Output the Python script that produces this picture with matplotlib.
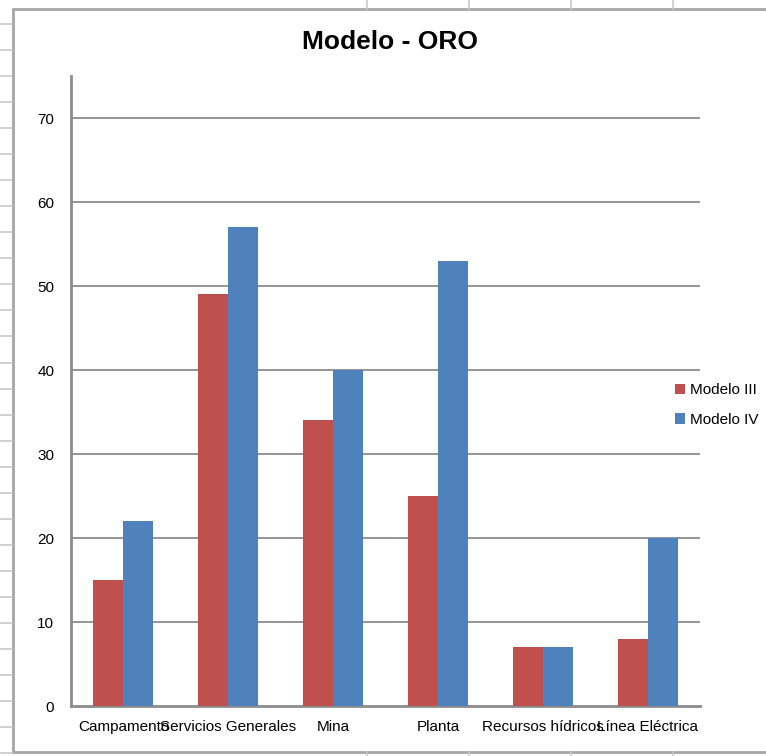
import numpy as np
import matplotlib
matplotlib.use("Agg")
import matplotlib.pyplot as plt
from matplotlib.patches import Patch, Rectangle
from matplotlib.lines import Line2D

categories = ["Campamento", "Servicios Generales", "Mina", "Planta",
              "Recursos hídricos", "Línea Eléctrica"]
modelo_iii = [15, 49, 34, 25, 7, 8]
modelo_iv = [22, 57, 40, 53, 7, 20]
series_names = ["Modelo III", "Modelo IV"]
y_ticks = [0, 10, 20, 30, 40, 50, 60, 70]

RED = "#C0504D"
BLUE = "#4F81BD"
GRID = "#8C8C8C"
SHEET = "#C8C8C8"

plt.rcParams["font.family"] = ["Liberation Sans", "DejaVu Sans"]

W, H = 766, 756
fig = plt.figure(figsize=(W / 100, H / 100), dpi=100)
fig.patch.set_facecolor("white")

def fx(px):
    return px / W

def fy(py):
    return 1 - py / H

# worksheet cell lines around the embedded chart
for y in np.arange(24, 756, 26.04):
    fig.add_artist(Line2D([fx(1), fx(12)], [fy(y), fy(y)], color=SHEET, lw=1.2))
for x in [367, 469, 571, 673]:
    fig.add_artist(Line2D([fx(x), fx(x)], [fy(0), fy(9)], color=SHEET, lw=1.2))
    fig.add_artist(Line2D([fx(x), fx(x)], [fy(752), fy(756)], color=SHEET, lw=1.2))

# chart area frame (continues past the right edge)
fig.add_artist(Rectangle((fx(13), fy(752)), fx(950) - fx(13), fy(9) - fy(752),
                         transform=fig.transFigure, facecolor="white",
                         edgecolor="#A6A6A6", lw=2, zorder=0))

ax = fig.add_axes([fx(71), fy(706), fx(700) - fx(71), fy(76) - fy(706)])
ax.set_facecolor("none")

x = np.arange(len(categories))
bw = 0.286
ax.bar(x - bw / 2, modelo_iii, width=bw, color=RED, label=series_names[0], zorder=3)
ax.bar(x + bw / 2, modelo_iv, width=bw, color=BLUE, label=series_names[1], zorder=3)

ax.set_xlim(-0.5, len(categories) - 0.5)
ax.set_ylim(0, 75)
ax.set_yticks(y_ticks)
ax.set_xticks(x)
ax.set_xticklabels(categories)
for t in y_ticks[1:]:
    ax.axhline(t, color=GRID, lw=1.3, zorder=1)

for s in ["top", "right"]:
    ax.spines[s].set_visible(False)
for s in ["left", "bottom"]:
    ax.spines[s].set_color(GRID)
    ax.spines[s].set_linewidth(2)

ax.tick_params(axis="both", length=0, labelsize=11, colors="black")
ax.tick_params(axis="y", pad=12)
ax.tick_params(axis="x", pad=10)

fig.text(fx(390), fy(42), "Modelo - ORO", ha="center", va="center",
         fontsize=19, fontweight="bold")

handles = [Patch(facecolor=RED, label=series_names[0]),
           Patch(facecolor=BLUE, label=series_names[1])]
fig.legend(handles=handles, loc="center left",
           bbox_to_anchor=(fx(667), fy(405)), frameon=False,
           fontsize=11, handlelength=0.7, handleheight=0.7,
           handletextpad=0.3, labelspacing=1.0, borderpad=0)

fig.savefig("out.png", dpi=100, facecolor="white")
